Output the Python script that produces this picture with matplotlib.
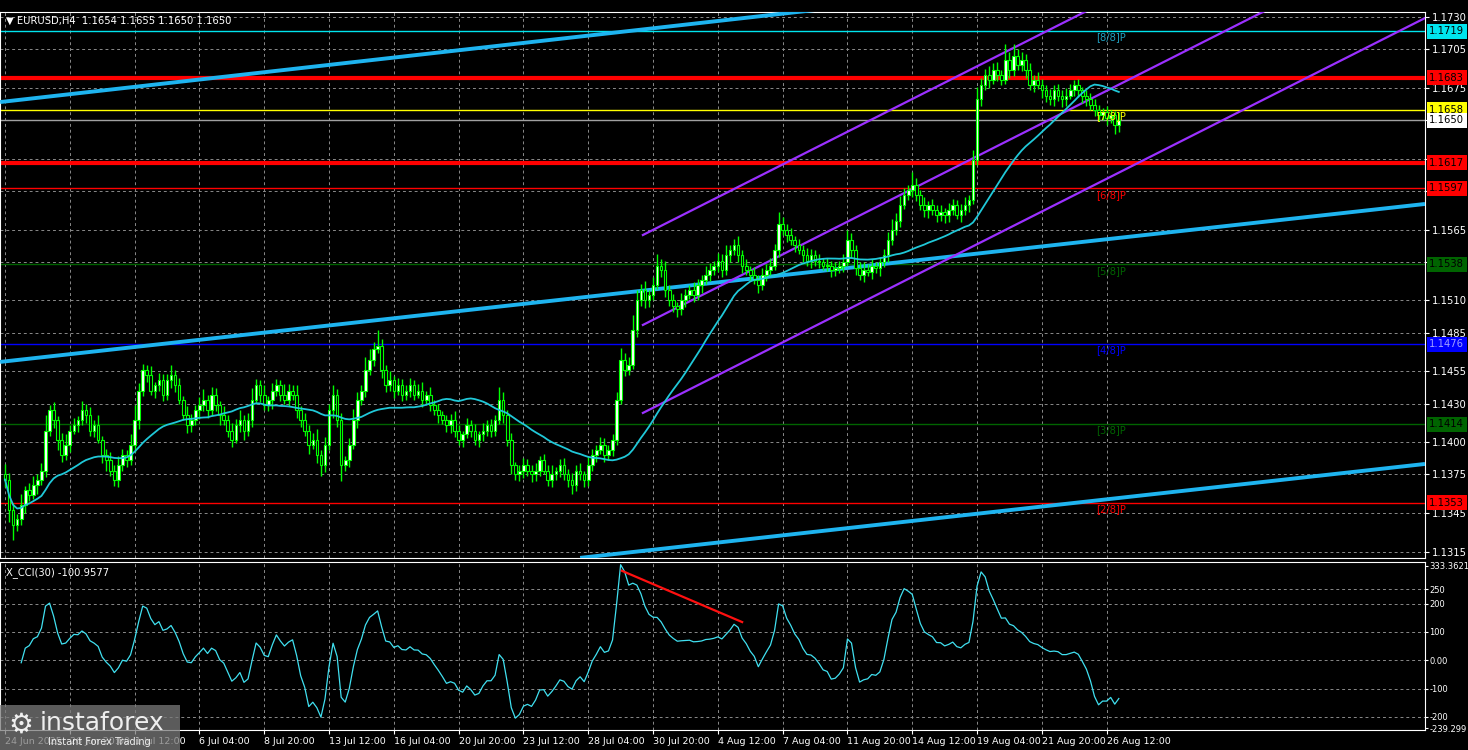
import numpy as np
import pandas as pd
import matplotlib
matplotlib.use("Agg")
import matplotlib.pyplot as plt
from matplotlib.transforms import blended_transform_factory as btf
from matplotlib.patches import Rectangle

# ---------------- data (pips above 1.1000) ----------------
closes_pips = [
 371,347,336,340,351,363,359,367,371,378,
 409,425,417,402,390,398,409,413,417,425,
 421,409,413,402,390,386,378,371,382,390,
 386,398,417,440,456,452,440,444,448,437,
 448,452,444,433,421,413,417,425,429,433,
 425,437,429,421,417,409,402,413,417,409,
 417,433,444,437,429,433,440,444,437,433,
 440,437,425,417,409,398,402,390,382,398,
 425,437,417,382,386,398,417,433,440,456,
 464,472,475,456,444,448,440,444,437,440,
 444,437,440,433,437,429,425,421,417,413,
 417,409,402,406,413,409,402,406,409,413,
 409,417,433,421,402,382,375,378,382,378,
 375,378,386,378,371,375,378,382,375,371,
 367,378,375,371,382,390,394,398,390,394,
 402,433,464,456,460,487,510,518,510,514,
 522,537,534,518,510,506,503,510,514,518,
 514,522,526,530,534,537,541,534,545,549,
 553,545,537,534,530,526,522,530,534,537,
 549,569,565,561,557,553,549,545,541,545,
 541,540,537,537,534,535,537,540,557,549,
 535,530,534,532,537,535,540,545,557,565,
 572,584,592,596,600,592,584,580,584,580,
 576,579,576,580,584,576,580,584,588,619,
 666,677,685,681,689,685,681,697,689,700,
 693,697,689,677,681,677,673,669,666,673,
 669,666,669,673,677,673,669,666,662,658,
 654,656,652,654,646,650]
wick_up = [
 8,5,6,4,9,3,5,7,4,6, 12,4,6,3,5,8,4,6,3,7, 5,6,4,8,3,5,6,4,7,5,
 4,8,12,6,5,4,7,3,6,5, 5,8,4,6,3,7,5,4,6,8, 4,6,5,3,7,4,6,5,8,4,
 6,9,5,4,7,3,6,5,4,8, 5,4,7,3,6,4,5,8,4,6, 5,7,4,6,3,5,9,6,4,10,
 8,6,12,5,4,7,3,6,5,4, 6,4,5,7,3,6,4,5,3,4, 5,7,4,3,6,4,5,3,6,4,
 5,4,10,6,4,5,3,4,6,5, 4,6,3,5,4,7,3,5,6,4, 5,4,6,3,7,5,4,6,5,4,
 4,6,9,5,6,12,8,5,7,4, 6,9,5,7,4,5,3,6,5,4, 6,5,4,7,5,4,6,5,8,4,
 5,7,4,5,3,6,4,5,4,6, 5,10,6,4,5,3,5,4,6,5, 4,5,3,6,4,5,4,6,8,5,
 4,5,6,4,5,3,4,5,6,8, 6,7,5,4,10,5,4,6,3,5, 4,5,3,6,5,4,5,6,4,8,
 10,6,5,7,5,6,4,12,6,9, 5,6,4,5,4,6,5,4,5,4, 5,4,6,5,4,5,3,4,5,4,
 4,3,5,4,3,6]
wick_dn = [
 6,9,12,5,4,6,5,3,7,4, 5,4,6,8,5,4,6,3,5,4, 6,4,5,3,6,8,4,5,6,4,
 5,4,6,7,4,5,3,6,4,5, 4,6,5,3,4,6,5,4,7,5, 6,4,5,8,4,5,6,3,5,7,
 4,5,3,6,4,5,7,4,5,3, 5,4,6,5,4,7,3,6,8,5, 4,6,5,12,4,5,3,6,4,5,
 4,5,3,6,5,4,6,3,5,4, 5,4,3,6,4,5,4,6,3,5, 6,5,4,6,3,5,4,6,5,4,
 5,4,3,6,5,7,4,5,6,4, 6,5,4,3,5,6,4,5,4,6, 7,5,4,6,5,4,5,3,5,4,
 5,4,3,5,4,3,5,4,6,5, 4,3,6,5,4,5,6,4,5,3, 5,4,6,3,5,4,5,6,4,5,
 4,5,6,4,5,3,6,4,5,4, 3,5,4,6,4,5,3,5,4,6, 4,5,3,4,6,5,4,5,3,6,
 5,4,6,3,5,4,6,4,5,4, 4,5,3,4,6,5,4,5,6,4, 5,4,6,5,4,3,5,4,5,3,
 4,5,4,6,3,5,4,3,6,5, 4,5,6,4,5,3,6,5,4,5, 4,6,5,3,4,5,6,5,4,5,
 5,4,6,4,7,5]
first_open = 1.1375

x_labels = ["24 Jun 2025", "26 Jun 20:00", "1 Jul 12:00", "6 Jul 04:00", "8 Jul 20:00",
            "13 Jul 12:00", "16 Jul 04:00", "20 Jul 20:00", "23 Jul 12:00", "28 Jul 04:00",
            "30 Jul 20:00", "4 Aug 12:00", "7 Aug 04:00", "11 Aug 20:00", "14 Aug 12:00",
            "19 Aug 04:00", "21 Aug 20:00", "26 Aug 12:00"]
price_ticks = [1.1730, 1.1705, 1.1675, 1.1650, 1.1620, 1.1595, 1.1565, 1.1540, 1.1510,
               1.1485, 1.1455, 1.1430, 1.1400, 1.1375, 1.1345, 1.1315]
level_prices = [1.1719, 1.1683, 1.1658, 1.1650, 1.1617, 1.1597, 1.1538, 1.1476, 1.1414, 1.1353]
murrey_names = ["[8/8]P", "[7/8]P", "[6/8]P", "[5/8]P", "[4/8]P", "[3/8]P", "[2/8]P"]
murrey_prices = [1.1719, 1.1658, 1.1597, 1.1538, 1.1476, 1.1414, 1.1353]
blue_lines = [(-1.2, 1.16640, 217.3, 1.17416),
              (-1.2, 1.14623, 350.6, 1.15849),
              (142.0, 1.13102, 350.6, 1.13831)]
channel_lines = [(157.5, 1.15608, 350.6, 1.18673),
                 (157.5, 1.14910, 350.6, 1.17975),
                 (157.5, 1.14227, 350.6, 1.17292)]
cci_line = (152.3, 316.0, 182.0, 135.0)
cci_ticks = [250, 200, 100, 0, -100, -200]

# ---------------- computations ----------------
c = 1.1 + np.array(closes_pips) / 10000.0
o = np.r_[first_open, c[:-1]]
h = np.maximum(o, c) + np.array(wick_up) / 10000.0
l = np.minimum(o, c) - np.array(wick_dn) / 10000.0
n = len(c)
x = np.arange(n)
ma = pd.Series(c).rolling(30, min_periods=1).mean().values
tp = pd.Series((h + l + c) / 3)
sma = tp.rolling(30, min_periods=5).mean()
md = tp.rolling(30, min_periods=5).apply(lambda v: np.mean(np.abs(v - v.mean())), raw=True)
cci = ((tp - sma) / (0.015 * md)).values

# ---------------- figure ----------------
W, H = 1468, 750
fig = plt.figure(figsize=(W / 100, H / 100), dpi=100, facecolor="black")
ax = fig.add_axes([0, 1 - 558 / H, 1425 / W, 546 / H], facecolor="black")
ax2 = fig.add_axes([0, 1 - 730 / H, 1425 / W, 168 / H], facecolor="black")
XMIN, XMAX = -1.235, 350.6
grid_kw = dict(color="#8a8a8a", lw=0.7, ls=(0, (3, 3)))
FS = 7.2

for a in (ax, ax2):
    a.set_xlim(XMIN, XMAX)
    for s in a.spines.values():
        s.set_color("white")
        s.set_linewidth(0.8)
    a.tick_params(colors="white", labelsize=FS, length=3, pad=2)
    a.yaxis.tick_right()
    for t in range(0, 273, 16):
        a.axvline(t, zorder=0, **grid_kw)

ax.set_ylim(1.13101, 1.17339)
ax.set_yticks(price_ticks)
ax.set_yticklabels(["" if min(abs(p - q) for q in level_prices) < 0.0007 else f"{p:.4f}"
                    for p in price_ticks])
ax.set_xticks([])
for p in price_ticks:
    ax.axhline(p, zorder=0, **grid_kw)

lvl_colors = ["#00e5ee", "#ff0000", "#ffff00", "#a0a0a0", "#ff0000", "#ff0000",
              "#006400", "#0000ff", "#006400", "#ff0000"]
lvl_widths = [1, 3, 1, 1, 3, 1, 1, 1, 1, 1]
box_fc = ["#00e5ee", "#ff0000", "#ffff00", "#ffffff", "#ff0000", "#ff0000",
          "#006400", "#0000ff", "#006400", "#ff0000"]
box_tc = ["black", "black", "black", "black", "black", "black", "black", "#a0a0ff", "black", "black"]
for p, col, lw in zip(level_prices, lvl_colors, lvl_widths):
    ax.axhline(p, color=col, lw=lw, zorder=1)
tr = btf(ax.transAxes, ax.transData)
for p, fc, tc in zip(level_prices, box_fc, box_tc):
    ax.text(1.003, p, f"{p:.4f}", transform=tr, fontsize=FS, color=tc, va="center", ha="left",
            bbox=dict(boxstyle="square,pad=0.25", fc=fc, ec="none"), zorder=20, clip_on=False)

m_cols = ["#20a0c0", "#ffff00", "#ff0000", "#006400", "#0000ff", "#006400", "#ff0000"]
for nm, p, col in zip(murrey_names, murrey_prices, m_cols):
    ax.text(269.3, p - 0.0001, nm, color=col, fontsize=FS, va="top", ha="left", zorder=6)

for (x0, p0, x1, p1) in blue_lines:
    ax.plot([x0, x1], [p0, p1], color="#1eb4f0", lw=2.8, zorder=3, solid_capstyle="butt")
for (x0, p0, x1, p1) in channel_lines:
    ax.plot([x0, x1], [p0, p1], color="#9b30ff", lw=1.6, zorder=3)

green = "#00ff00"
ax.vlines(x, l, h, color=green, lw=1, zorder=4)
body_lo = np.minimum(o, c)
body_h = np.maximum(np.abs(c - o), 0.00003)
face = np.where(c >= o, "white", "black")
ax.bar(x, body_h, bottom=body_lo, width=0.65, color=face, edgecolor=green, lw=0.8, zorder=5)
ax.plot(x, ma, color="#20c8d8", lw=1.3, zorder=6)

ax.text(0.004, 0.993, "\u25bc EURUSD,H4  1.1654 1.1655 1.1650 1.1650", transform=ax.transAxes,
        color="white", fontsize=FS, va="top", ha="left")

ax2.set_ylim(-246, 347)
ax2.set_yticks([333.3621] + cci_ticks + [-239.299])
ax2.set_yticklabels(["333.3621", "250", "200", "100", "0.00", "-100", "-200", "-239.299"])
ax2.tick_params(axis="y", labelsize=6.0, pad=1, length=2)
for v in cci_ticks:
    ax2.axhline(v, zorder=0, **grid_kw)
ax2.plot(x, cci, color="#40e0f0", lw=0.9, zorder=3)
ax2.plot([cci_line[0], cci_line[2]], [cci_line[1], cci_line[3]], color="#ff1010", lw=1.6, zorder=4)
ax2.text(0.004, 0.97, "X_CCI(30) -100.9577", transform=ax2.transAxes, color="white",
         fontsize=FS, va="top", ha="left")
ax2.set_xticks(np.arange(0, 273, 16))
ax2.set_xticklabels(x_labels)
ax2.tick_params(axis="x", labelsize=6.8)
for lab in ax2.get_xticklabels():
    lab.set_horizontalalignment("left")

fig.patches.append(Rectangle((0, 0), 180 / W, 45 / H, transform=fig.transFigure,
                             fc="#7a7a7a", alpha=0.75, ec="none", zorder=30))
fig.text(40 / W, 27 / H, "instaforex", color="white", fontsize=18, va="center", ha="left",
         alpha=0.9, zorder=31)
fig.text(48 / W, 8 / H, "Instant Forex Trading", color="white", fontsize=7, va="center",
         ha="left", alpha=0.9, zorder=31)
fig.text(8 / W, 25 / H, "\u2699", color="white", fontsize=20, va="center", ha="left",
         alpha=0.9, zorder=31)

fig.savefig("out.png", dpi=100, facecolor="black")
